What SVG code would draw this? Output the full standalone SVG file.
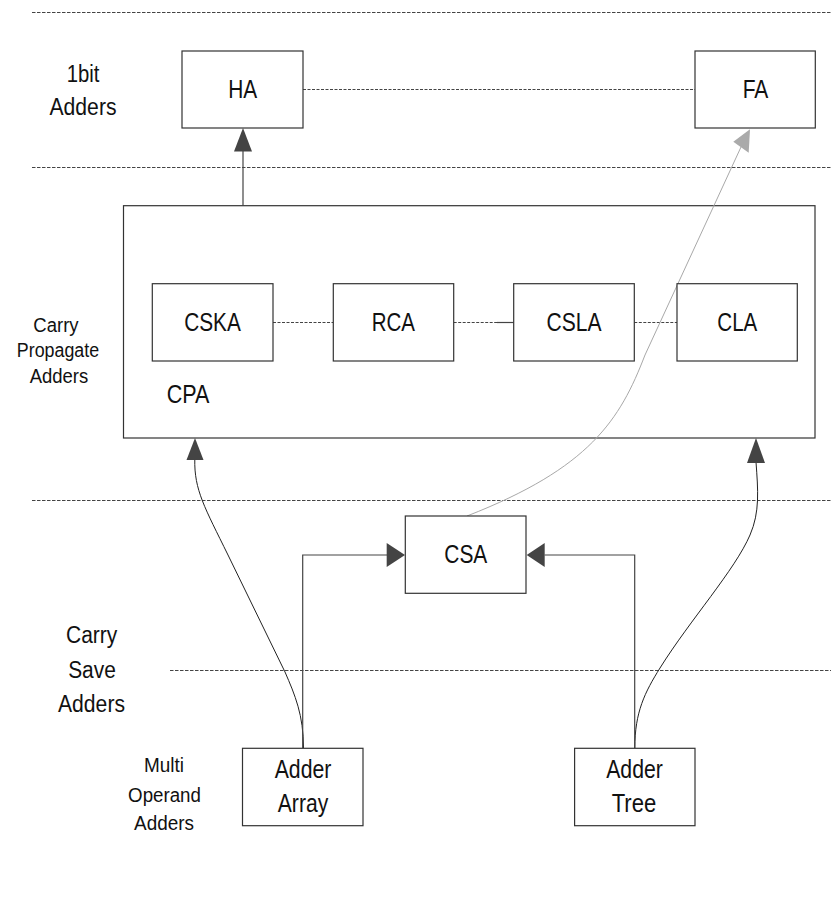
<svg xmlns="http://www.w3.org/2000/svg" width="831" height="901" viewBox="0 0 831 901">
  <style>
    .box { fill: #fff; stroke: #333; stroke-width: 1.2; }
    .lbl { font-family: "Liberation Sans", Arial, sans-serif; fill: #111; text-anchor: middle; }
    .node { font-size: 25px; }
    .tier { font-size: 23px; }
    .cpa-tier { font-size: 19.5px; }
    .small { font-size: 20px; }
    .sep { stroke: #444; stroke-width: 1; stroke-dasharray: 3.5 1.5; fill: none; }
    .link { stroke: #444; stroke-width: 1; stroke-dasharray: 3 1.5; fill: none; }
    .wire { stroke: #444; stroke-width: 1.2; fill: none; }
    .curve { stroke: #222; stroke-width: 1; fill: none; }
    .gray { stroke: #a8a8a8; stroke-width: 1; fill: none; }
    .head { fill: #444; }
    .ghead { fill: #aaa; }
  </style>

  <rect width="831" height="901" fill="#fff"/>

  <!-- tier separators -->
  <g id="separators">
    <line class="sep" x1="32" y1="12.5" x2="831" y2="12.5"/>
    <line class="sep" x1="32" y1="167.5" x2="831" y2="167.5"/>
    <line class="sep" x1="32" y1="500.5" x2="831" y2="500.5"/>
    <line class="sep" x1="170" y1="670.5" x2="831" y2="670.5"/>
  </g>

  <!-- tier labels -->
  <g id="tier-labels">
    <text class="lbl tier" x="83" y="81.7" textLength="32.7" lengthAdjust="spacingAndGlyphs">1bit</text>
    <text class="lbl tier" x="83" y="115" textLength="67" lengthAdjust="spacingAndGlyphs">Adders</text>
    <text class="lbl cpa-tier" x="56" y="331.5" textLength="45.3" lengthAdjust="spacingAndGlyphs">Carry</text>
    <text class="lbl cpa-tier" x="58" y="357" textLength="82.3" lengthAdjust="spacingAndGlyphs">Propagate</text>
    <text class="lbl cpa-tier" x="59" y="383" textLength="58.6" lengthAdjust="spacingAndGlyphs">Adders</text>
    <text class="lbl tier" x="91.7" y="643.3" textLength="51.3" lengthAdjust="spacingAndGlyphs">Carry</text>
    <text class="lbl tier" x="92" y="678" textLength="47.7" lengthAdjust="spacingAndGlyphs">Save</text>
    <text class="lbl tier" x="91.5" y="711.7" textLength="67" lengthAdjust="spacingAndGlyphs">Adders</text>
    <text class="lbl small" x="164" y="771.7" textLength="40" lengthAdjust="spacingAndGlyphs">Multi</text>
    <text class="lbl small" x="164.5" y="801.7" textLength="72.8" lengthAdjust="spacingAndGlyphs">Operand</text>
    <text class="lbl small" x="164" y="830" textLength="60" lengthAdjust="spacingAndGlyphs">Adders</text>
  </g>

  <!-- CPA container -->
  <g id="cpa">
    <rect class="box" x="123.5" y="205.7" width="691.5" height="232.3"/>
    <text class="lbl node" x="188" y="403.3" textLength="42.7" lengthAdjust="spacingAndGlyphs">CPA</text>
  </g>

  <!-- connectors -->
  <g id="connectors">
    <!-- peer links -->
    <line class="link" x1="303" y1="89.5" x2="695" y2="89.5"/>
    <line class="link" x1="273" y1="322.5" x2="333.3" y2="322.5"/>
    <line class="link" x1="453.7" y1="322.5" x2="497" y2="322.5"/>
    <line class="wire" x1="497" y1="322.5" x2="513.7" y2="322.5"/>
    <line class="link" x1="634.3" y1="322.5" x2="677" y2="322.5"/>

    <!-- CPA to HA -->
    <line class="wire" x1="243" y1="205.7" x2="243" y2="151"/>
    <polygon class="head" points="243,128 234,151.5 252,151.5"/>

    <!-- CSA to FA -->
    <path class="gray" d="M467,516 C590,468 620,420 645,355 L741,147"/>
    <polygon class="ghead" points="750,129.3 733.3,141.7 748.7,152.7"/>

    <!-- Adder Array to CPA -->
    <path class="curve" d="M303.5,748 C303.5,715 295,695 285,672 L228,555 C205,508 194,490 194.8,459"/>
    <polygon class="head" points="195,438 186.5,460 203.5,460"/>

    <!-- Adder Tree to CPA -->
    <path class="curve" d="M634.8,748 C634.8,712 645,692 660,668 C690,620 735,570 750,535 C760,512 758,490 756,462"/>
    <polygon class="head" points="756,438 747,463 765,463"/>

    <!-- Adder Array to CSA -->
    <polyline class="wire" points="302.7,748 302.7,555 387,555"/>
    <polygon class="head" points="405,555 386.7,543 386.7,567"/>

    <!-- Adder Tree to CSA -->
    <polyline class="wire" points="634.7,748 634.7,555 544.5,555"/>
    <polygon class="head" points="526.7,555 544.7,543 544.7,567"/>
  </g>

  <!-- nodes -->
  <g id="ha">
    <rect class="box" x="182" y="51" width="121" height="77"/>
    <text class="lbl node" x="242.8" y="98.3" textLength="29" lengthAdjust="spacingAndGlyphs">HA</text>
  </g>
  <g id="fa">
    <rect class="box" x="695" y="51" width="120.3" height="77"/>
    <text class="lbl node" x="755.5" y="98.3" textLength="25.7" lengthAdjust="spacingAndGlyphs">FA</text>
  </g>
  <g id="cska">
    <rect class="box" x="152.3" y="283.7" width="120.7" height="77.3"/>
    <text class="lbl node" x="212.5" y="330.7" textLength="56.7" lengthAdjust="spacingAndGlyphs">CSKA</text>
  </g>
  <g id="rca">
    <rect class="box" x="333.3" y="283.7" width="120.4" height="77.3"/>
    <text class="lbl node" x="393.4" y="330.7" textLength="43.3" lengthAdjust="spacingAndGlyphs">RCA</text>
  </g>
  <g id="csla">
    <rect class="box" x="513.7" y="283.7" width="120.6" height="77.3"/>
    <text class="lbl node" x="574" y="330.7" textLength="55" lengthAdjust="spacingAndGlyphs">CSLA</text>
  </g>
  <g id="cla">
    <rect class="box" x="677" y="283.7" width="120.3" height="77.3"/>
    <text class="lbl node" x="737.3" y="330.7" textLength="40" lengthAdjust="spacingAndGlyphs">CLA</text>
  </g>
  <g id="csa">
    <rect class="box" x="405.3" y="516" width="120.7" height="77.3"/>
    <text class="lbl node" x="465.8" y="563" textLength="43" lengthAdjust="spacingAndGlyphs">CSA</text>
  </g>
  <g id="adder-array">
    <rect class="box" x="242.5" y="748.3" width="120.5" height="77.4"/>
    <text class="lbl node" x="303" y="778.3" textLength="56.7" lengthAdjust="spacingAndGlyphs">Adder</text>
    <text class="lbl node" x="303" y="811.7" textLength="50.4" lengthAdjust="spacingAndGlyphs">Array</text>
  </g>
  <g id="adder-tree">
    <rect class="box" x="574.6" y="748.3" width="120.4" height="77.4"/>
    <text class="lbl node" x="634.5" y="778.3" textLength="56.7" lengthAdjust="spacingAndGlyphs">Adder</text>
    <text class="lbl node" x="634" y="811.7" textLength="44.6" lengthAdjust="spacingAndGlyphs">Tree</text>
  </g>
</svg>
